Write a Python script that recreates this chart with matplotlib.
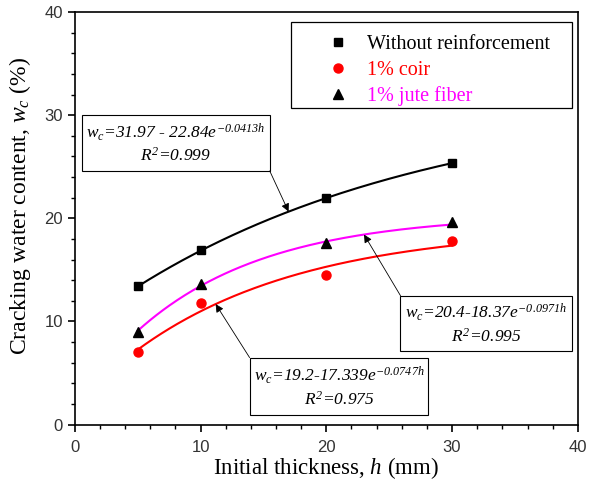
import numpy as np
import matplotlib

matplotlib.use("Agg")
import matplotlib.pyplot as plt
from matplotlib.patches import Rectangle
from matplotlib.ticker import MultipleLocator

# measured points
thickness = [5, 10, 20, 30]
wc_plain = [13.4, 16.9, 22.0, 25.4]
wc_coir = [7.0, 11.8, 14.5, 17.8]
wc_jute = [9.0, 13.6, 17.6, 19.6]

series_labels = ["Without reinforcement", "1% coir", "1% jute fiber"]
series_colors = ["black", "red", "#ff00ff"]

# fit parameters printed on the chart: wc = a - b*exp(-k*h)
fit_plain = (31.97, 22.84, 0.0413)
fit_coir = (19.2, 17.339, 0.0747)
fit_jute = (20.4, 18.37, 0.0971)

plt.rcParams["mathtext.fontset"] = "custom"
plt.rcParams["mathtext.rm"] = "Liberation Serif:italic"
plt.rcParams["mathtext.it"] = "Liberation Serif:italic"

SERIF = "Liberation Serif"
SANS = "Liberation Sans"


def fit_curve(params, h):
    a, b, k = params
    return a - b * np.exp(-k * h)


def eq_box(ax, x0, x1, y0, y1, line1, line2):
    ax.add_patch(Rectangle((x0, y0), x1 - x0, y1 - y0, fill=True, fc="white",
                           ec="black", lw=0.8, zorder=4))
    xc = (x0 + x1) / 2
    h = y1 - y0
    ax.text(xc, y0 + h * 0.70, line1, ha="center", va="center", fontsize=12.5,
            family=SERIF, style="italic", zorder=5)
    ax.text(xc, y0 + h * 0.27, line2, ha="center", va="center", fontsize=12.5,
            family=SERIF, style="italic", zorder=5)


def arrow(ax, start, end):
    ax.annotate("", xy=end, xytext=start,
                arrowprops=dict(arrowstyle="-|>", color="black", lw=0.6,
                                mutation_scale=12, shrinkA=0, shrinkB=0),
                zorder=6)


fig = plt.figure(figsize=(5.89, 4.82), dpi=100)
ax = fig.add_axes([0.127, 0.119, 0.854, 0.856])

hh = np.linspace(5, 30, 200)
for params, color in zip([fit_plain, fit_coir, fit_jute], series_colors):
    ax.plot(hh, fit_curve(params, hh), color=color, lw=1.5, zorder=2)

ax.plot(thickness, wc_plain, "s", color="black", ms=6, label=series_labels[0], zorder=3)
ax.plot(thickness, wc_coir, "o", color="red", ms=6.5, label=series_labels[1], zorder=3)
ax.plot(thickness, wc_jute, "^", color="black", ms=7, label=series_labels[2], zorder=3)

ax.set_xlim(0, 40)
ax.set_ylim(0, 40)
ax.xaxis.set_major_locator(MultipleLocator(10))
ax.yaxis.set_major_locator(MultipleLocator(10))
ax.xaxis.set_minor_locator(MultipleLocator(2))
ax.yaxis.set_minor_locator(MultipleLocator(2))
ax.tick_params(which="major", direction="out", length=5, width=1.2,
               labelsize=12, labelcolor="#333333")
ax.tick_params(axis="x", which="major", pad=6)
ax.tick_params(which="minor", direction="out", length=3, width=1.0)
for lbl in ax.get_xticklabels() + ax.get_yticklabels():
    lbl.set_family(SANS)
for sp in ax.spines.values():
    sp.set_linewidth(1.2)

ax.set_xlabel("Initial thickness, $h$ (mm)", family=SERIF, fontsize=16.5, labelpad=0)
ax.set_ylabel("Cracking water content, $w_c$ (%)", family=SERIF, fontsize=17)
ax.yaxis.set_label_coords(-0.084, 0.53)

# legend frame drawn separately so the entries can sit a little lower
ax.add_patch(Rectangle((0.43, 0.767), 0.558, 0.209, transform=ax.transAxes,
                       fill=False, ec="black", lw=0.9, zorder=4))
leg = ax.legend(loc="upper left", bbox_to_anchor=(0.438, 0.964, 0.55, 0.0),
                mode="expand", frameon=False,
                prop={"family": SERIF, "size": 14.5},
                handletextpad=-0.35, borderpad=0.4, labelspacing=0.33,
                handlelength=3.5, borderaxespad=0)
for txt, color in zip(leg.get_texts(), series_colors):
    txt.set_color(color)

eq_box(ax, 0.56, 15.5, 24.6, 30.0,
       "$w_c$=31.97 - 22.84$e^{-0.0413h}$", "$R^2$=0.999")
arrow(ax, (15.5, 24.6), (17.0, fit_curve(fit_plain, 17.0)))

eq_box(ax, 13.9, 28.1, 0.9, 6.5,
       "$w_c$=19.2-17.339$e^{-0.0747h}$", "$R^2$=0.975")
arrow(ax, (13.9, 6.5), (11.2, fit_curve(fit_coir, 11.2)))

eq_box(ax, 25.9, 39.5, 7.1, 12.5,
       "$w_c$=20.4-18.37$e^{-0.0971h}$", "$R^2$=0.995")
arrow(ax, (25.9, 12.5), (23.0, fit_curve(fit_jute, 23.0)))

fig.savefig("out.png", dpi=100)
